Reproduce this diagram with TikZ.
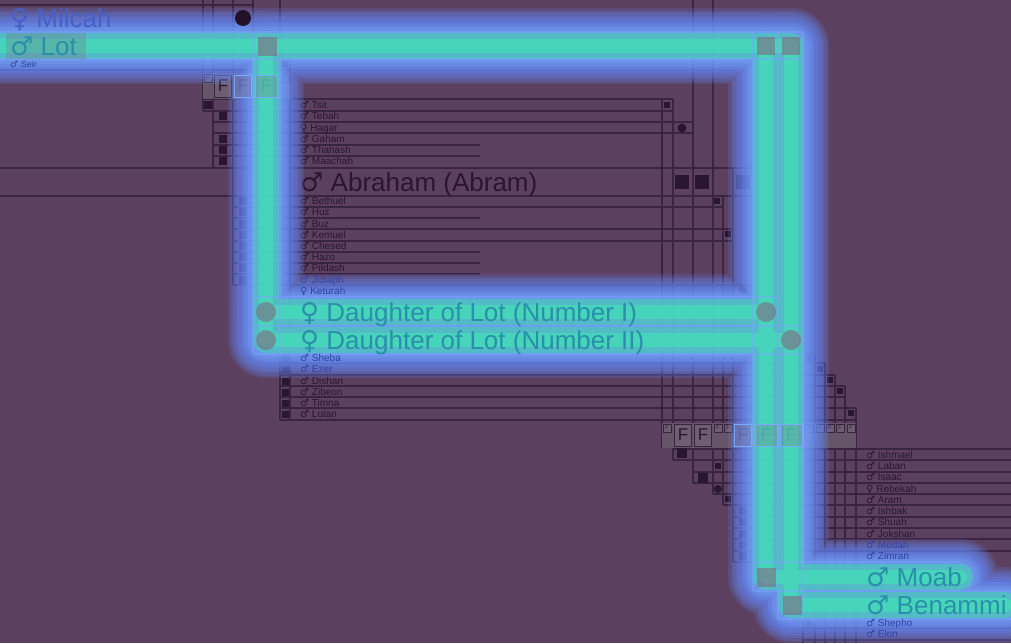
\documentclass[tikz,border=0pt]{standalone}
\usepackage{fontspec}
\setmainfont{Liberation Sans}
\newfontfamily\symfam{DejaVu Sans}
\newcommand\sexm{{\symfam ♂}}
\newcommand\sexf{{\symfam ♀}}
\definecolor{bg}{HTML}{5C4060}
\definecolor{ink}{HTML}{2A1532}
\definecolor{gridc}{HTML}{3A2444}
\definecolor{mute}{HTML}{7C7084}
\definecolor{fband}{HTML}{665468}
\definecolor{fcell}{HTML}{6E5E72}
\definecolor{glowblue}{HTML}{648CFF}
\definecolor{glowsky}{HTML}{78AAFF}
\definecolor{glowcyan}{HTML}{3CDCA8}
\definecolor{glowgreen}{HTML}{3CF0B0}
\definecolor{lit}{HTML}{2A8FAA}
\definecolor{milc}{HTML}{4561C8}
\definecolor{dimink}{HTML}{3044A4}
\begin{document}
\begin{tikzpicture}[x=1pt, y=-1pt,
  rowline/.style={draw=gridc, line width=1.1pt},
  litline/.style={draw=glowsky, line width=1.1pt, opacity=.5},
  who/.style={anchor=west, inner sep=0pt, text=ink, font=\fontsize{10}{10}\selectfont, text height=7.2pt, text depth=0pt},
  dimwho/.style={who, text=dimink},
  bigname/.style={who, font=\fontsize{26}{26}\selectfont, text height=18.7pt, text=lit},
  sq/.style={rectangle, fill=ink, inner sep=0pt, minimum size=#1},
  sq/.default=8pt,
  pdot/.style={circle, fill=ink, inner sep=0pt, minimum size=#1},
  pdot/.default=8pt,
  hl/.style={fill=mute, fill opacity=.65},
  famF/.style={rectangle, fill=fcell, draw=gridc, line width=.6pt, inner sep=0pt, minimum width=17pt, minimum height=22pt, font=\fontsize{17}{17}\selectfont, text=ink},
  famf/.style={famF, minimum width=8pt, minimum height=8pt, font=\fontsize{5}{5}\selectfont},
  famlit/.style={famF, fill=mute, fill opacity=.3, draw=glowsky, text=lit},
]
  \useasboundingbox (0,0) rectangle (1011,643);
  \fill[bg] (0,0) rectangle (1011,643);

  % rows
  \foreach \y/\a/\b in {5/0/253, 32/0/803, 59/0/803, 70/0/290,
      99/203/673, 111/203/673, 122/213/693, 133/213/693, 145/213/480, 156/213/480,
      168/0/753, 196/0/753, 207/233/723, 218/233/480, 229/233/733, 241/233/733,
      252/233/480, 263/233/480, 274/233/480, 285/233/753, 297/253/778, 326/253/803,
      354/253/815, 363/280/825, 375/280/835, 386/280/845, 397/280/845, 408/280/856, 420/280/856,
      449/673/1011, 460/673/1011, 472/693/1011, 483/693/1011, 494/713/1011, 505/723/1011,
      517/733/1011, 528/733/1011, 539/733/1011, 551/733/1011, 562/733/960,
      591/753/1011, 619/778/1011, 628/803/1011, 640/803/1011}
    \draw[rowline] (\a,\y) -- (\b,\y);
  % columns
  \foreach \x/\a/\b in {203/0/111, 213/0/168, 233/0/285, 253/0/354, 280/0/420, 290/59/420,
      662/99/448, 673/99/460, 693/0/483, 713/0/494, 723/196/505, 733/168/562,
      753/32/591, 778/32/619, 803/32/643, 815/354/643, 825/363/643, 835/375/643,
      845/386/643, 856/408/643}
    \draw[rowline] (\x,\a) -- (\x,\b);

  % family boxes
  \fill[fband] (203,73) rectangle (290,99);
  \fill[fband] (662,423) rectangle (856,448);
  \node[famf] (fa) at (208,78) {F};
  \node[famF] (fb) at (223,86) {F};
  \node[famf] (fe) at (285,78) {F};
  \foreach \x [count=\i] in {667, 718, 728, 809, 820, 830, 840, 851}
    \node[famf] (fs\i) at (\x,428) {F};
  \foreach \x [count=\i] in {683, 703}
    \node[famF] (fr\i) at (\x,435) {F};

  % markers
  \foreach \x/\y [count=\i] in {667/105, 717/201, 728/234, 718/466, 728/499, 285/64,
      809/358, 820/369, 830/380, 840/391, 851/413, 809/623}
    \node[sq=6pt] (s\i) at (\x,\y) {};
  \foreach \x/\y [count=\i] in {208/105, 223/116, 223/139, 223/150, 223/161,
      243/201, 243/212, 243/224, 243/235, 243/246, 243/257, 243/268, 243/280,
      743/511, 743/522, 743/534, 743/545, 743/556}
    \node[sq] (k\i) at (\x,\y) {};
  \foreach \y [count=\i] in {358, 369, 381, 392, 403, 414}
    \node[sq=7pt] (e\i) at (285,\y) {};
  \node[sq=10pt] (ishm) at (682,453) {};
  \node[sq=10pt] (isaa) at (703,478) {};
  \node[sq=14pt] (abr1) at (682,182) {};
  \node[sq=14pt] (abr2) at (702,182) {};
  \node[sq=14pt] (abr3) at (743,182) {};
  \node[pdot=9pt] (haga) at (682,128) {};
  \node[pdot] (rebe) at (718,489) {};
  \node[pdot] (ketu) at (743,290) {};

  % names
  \foreach \who/\y/\s in {Tsit/105/m, Tebah/116/m, Hagar/128/f, Gaham/139/m, Thahash/150/m,
      Maachah/161/m, Bethuel/201/m, Huz/212/m, Buz/224/m, Kemuel/235/m, Chesed/246/m,
      Hazo/257/m, Pildash/268/m, Dishan/381/m, Zibeon/392/m, Timna/403/m, Lotan/414/m}
    \node[who] (\who) at (300,\y) {\csname sex\s\endcsname\ \who};
  \foreach \who/\y/\s in {Ishmael/455/m, Laban/466/m, Isaac/477/m, Rebekah/489/f, Aram/500/m,
      Ishbak/511/m, Shuah/522/m, Jokshan/534/m}
    \node[who] (\who) at (866,\y) {\csname sex\s\endcsname\ \who};
  \node[bigname, text=ink] (abraham) at (300,182) {\sexm\ Abraham (Abram)};

  % glow along the highlighted line
  \foreach \c/\w/\o in {glowblue/76pt/.18, glowblue/71pt/.18, glowblue/66pt/.2, glowblue/61pt/.2,
      glowblue/56pt/.2, glowblue/51pt/.2, glowsky/46pt/.2, glowsky/41pt/.2,
      glowsky/36pt/.2, glowsky/31pt/.2, glowcyan/26pt/.55, glowgreen/14pt/.5}
    \draw[\c, line width=\w, opacity=\o, line cap=round, line join=round]
      (0,46) -- (791,46) -- (791,605) -- (1005,605)
      (766,46) -- (766,577) -- (960,577)
      (266,46) -- (266,340) -- (791,340)
      (266,312) -- (766,312);
  \foreach \y/\a/\b in {32/0/803, 59/0/803, 297/253/778, 326/253/803, 354/253/803,
      562/753/960, 591/753/1011, 619/778/1011}
    \draw[litline] (\a,\y) -- (\b,\y);
  \foreach \x/\a/\b in {253/32/354, 280/59/354, 753/32/591, 778/32/619, 803/32/619}
    \draw[litline] (\x,\a) -- (\x,\b);

  % names and marks inside the glow
  \node[pdot=16pt, fill=ink!80!black] (milc) at (243,18) {};
  \node[famlit, text=dimink] (fc) at (243,86) {F};
  \node[famlit, minimum width=22pt] (fd) at (266,86) {F};
  \node[famlit, text=dimink] (fr3) at (743,435) {F};
  \node[famlit, minimum width=22pt] (fm) at (766,435) {F};
  \node[famlit, minimum width=22pt] (fn) at (791,435) {F};
  \node[dimwho, font=\fontsize{9}{9}\selectfont] (seir) at (10,64) {\sexm\ Seir};
  \foreach \who/\x/\y/\s in {Jidlaph/300/280/m, Keturah/300/291/f, Sheba/300/358/m, Ezer/300/369/m,
      Medan/866/545/m, Zimran/866/556/m, Shepho/866/623/m, Elon/866/634/m}
    \node[dimwho] (\who) at (\x,\y) {\csname sex\s\endcsname\ \who};

  % highlighted people
  \fill[hl, fill opacity=.3] (6,33) rectangle (86,59);
  \foreach \x/\y/\s [count=\i] in {267/46/19pt, 766/46/18pt, 791/46/18pt, 766/577/19pt, 792/605/19pt}
    \node[sq=\s, hl] (h\i) at (\x,\y) {};
  \foreach \x/\y [count=\i] in {266/312, 266/340, 766/312, 791/340}
    \node[pdot=20pt, hl] (d\i) at (\x,\y) {};
  \node[bigname, text=milc] (milcah) at (10,18) {\sexf\ Milcah};
  \node[bigname] (lot) at (10,46) {\sexm\ Lot};
  \node[bigname] (lotdaughter1) at (300,312) {\sexf\ Daughter of Lot (Number I)};
  \node[bigname] (lotdaughter2) at (300,340) {\sexf\ Daughter of Lot (Number II)};
  \node[bigname] (moab) at (866,577) {\sexm\ Moab};
  \node[bigname] (benammi) at (866,605) {\sexm\ Benammi};
\end{tikzpicture}
\end{document}
